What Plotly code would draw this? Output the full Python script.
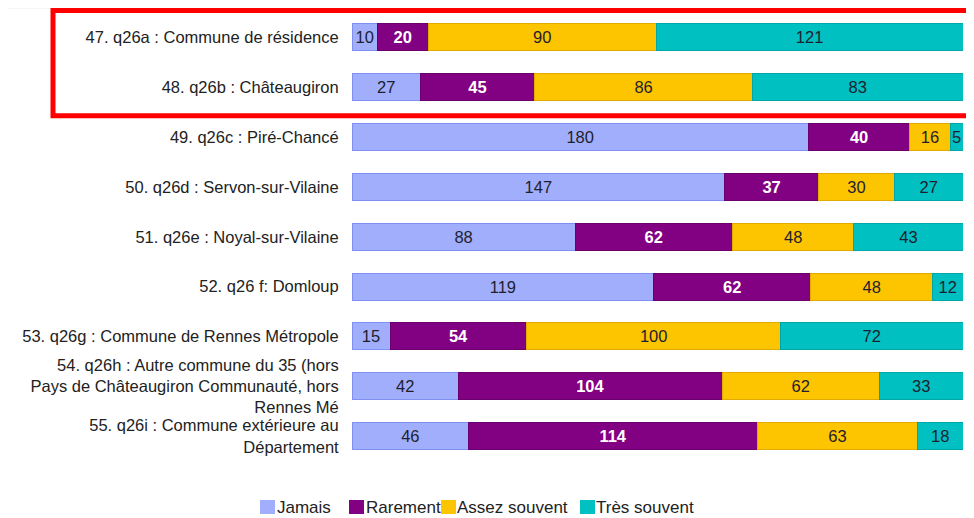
import plotly.graph_objects as go

categories = [
    "47. q26a : Commune de résidence",
    "48. q26b : Châteaugiron",
    "49. q26c : Piré-Chancé",
    "50. q26d : Servon-sur-Vilaine",
    "51. q26e : Noyal-sur-Vilaine",
    "52. q26 f: Domloup",
    "53. q26g : Commune de Rennes Métropole",
    "54. q26h : Autre commune du 35 (hors<br>Pays de Châteaugiron Communauté, hors<br>Rennes Mé",
    "55. q26i : Commune extérieure au<br>Département",
]

jamais = [10, 27, 180, 147, 88, 119, 15, 42, 46]
rarement = [20, 45, 40, 37, 62, 62, 54, 104, 114]
assez_souvent = [90, 86, 16, 30, 48, 48, 100, 62, 63]
tres_souvent = [121, 83, 5, 27, 43, 12, 72, 33, 18]

series_names = ["Jamais", "Rarement", "Assez souvent", "Très souvent"]
series_values = [jamais, rarement, assez_souvent, tres_souvent]

colors = ["#a0aefc", "#820082", "#fdc400", "#00c0c2"]
line_colors = ["#7f8ff2", "#6a006a", "#e0aa00", "#00a6a8"]
text_colors = ["#1e1e2e", "#ffffff", "#1e1e2e", "#1e1e2e"]
bold_text = [False, True, False, False]

FONT = "Liberation Sans, Arial, sans-serif"

# plot area geometry (in figure pixels)
W, H = 966, 518
ML, MR, MT = 344, 11, 0
PLOT_H = 453
MB = H - MT - PLOT_H
PLOT_W = W - ML - MR


def px_x(x):  # figure px -> paper x
    return (x - ML) / PLOT_W


def px_y(y):  # figure px -> paper y
    return (MT + PLOT_H - y) / PLOT_H


fig = go.Figure()
for name, vals, color, lc, tc, bold in zip(series_names, series_values, colors,
                                          line_colors, text_colors, bold_text):
    fig.add_trace(go.Bar(
        name=name,
        y=categories,
        x=vals,
        orientation="h",
        marker=dict(color=color, line=dict(color=lc, width=1)),
        text=[f"<b>{v}</b>" if bold else str(v) for v in vals],
        textposition="inside",
        insidetextanchor="middle",
        textangle=0,
        insidetextfont=dict(family=FONT, size=16.5, color=tc),
        hoverinfo="skip",
        showlegend=False,
    ))

# legend drawn manually (compact squares like the reference)
legend_square_x = [252, 341, 433, 572]   # figure px
legend_text_x = [268, 357, 448, 587]
shapes = [
    dict(type="rect", xref="paper", yref="paper",
         x0=px_x(-5), x1=px_x(W + 20), y0=px_y(H + 20), y1=px_y(MT),
         line=dict(color="#eeeeee", width=1), fillcolor="rgba(0,0,0,0)",
         layer="below"),
    dict(type="rect", xref="paper", yref="y",
         x0=px_x(45), x1=px_x(W + 20), y0=-0.54, y1=1.57,
         line=dict(color="#ff0000", width=5), fillcolor="rgba(0,0,0,0)"),
]
annotations = []
for name, color, sx, tx in zip(series_names, colors, legend_square_x, legend_text_x):
    shapes.append(dict(type="rect", xref="paper", yref="paper",
                       x0=px_x(sx), x1=px_x(sx + 15), y0=px_y(506), y1=px_y(492),
                       line=dict(width=0), fillcolor=color))
    annotations.append(dict(xref="paper", yref="paper", x=px_x(tx), y=px_y(499),
                            xanchor="left", yanchor="middle", text=name,
                            showarrow=False, borderpad=0,
                            font=dict(family=FONT, size=17, color="#222222")))

fig.update_layout(
    barmode="stack",
    barnorm="percent",
    bargap=0.455,
    width=W,
    height=H,
    margin=dict(l=ML, r=MR, t=MT, b=MB, pad=0, autoexpand=False),
    paper_bgcolor="white",
    plot_bgcolor="white",
    font=dict(family=FONT, size=17, color="#222222"),
    uniformtext=dict(minsize=16, mode="show"),
    showlegend=False,
    xaxis=dict(range=[0, 100], visible=False, fixedrange=True, automargin=False),
    yaxis=dict(
        autorange="reversed",
        automargin=False,
        showgrid=False,
        showline=False,
        zeroline=False,
        ticks="outside",
        ticklen=9,
        tickcolor="rgba(0,0,0,0)",
        tickfont=dict(family=FONT, size=16.5, color="#222222"),
    ),
    shapes=shapes,
    annotations=annotations,
)

fig.write_html("out.html")
